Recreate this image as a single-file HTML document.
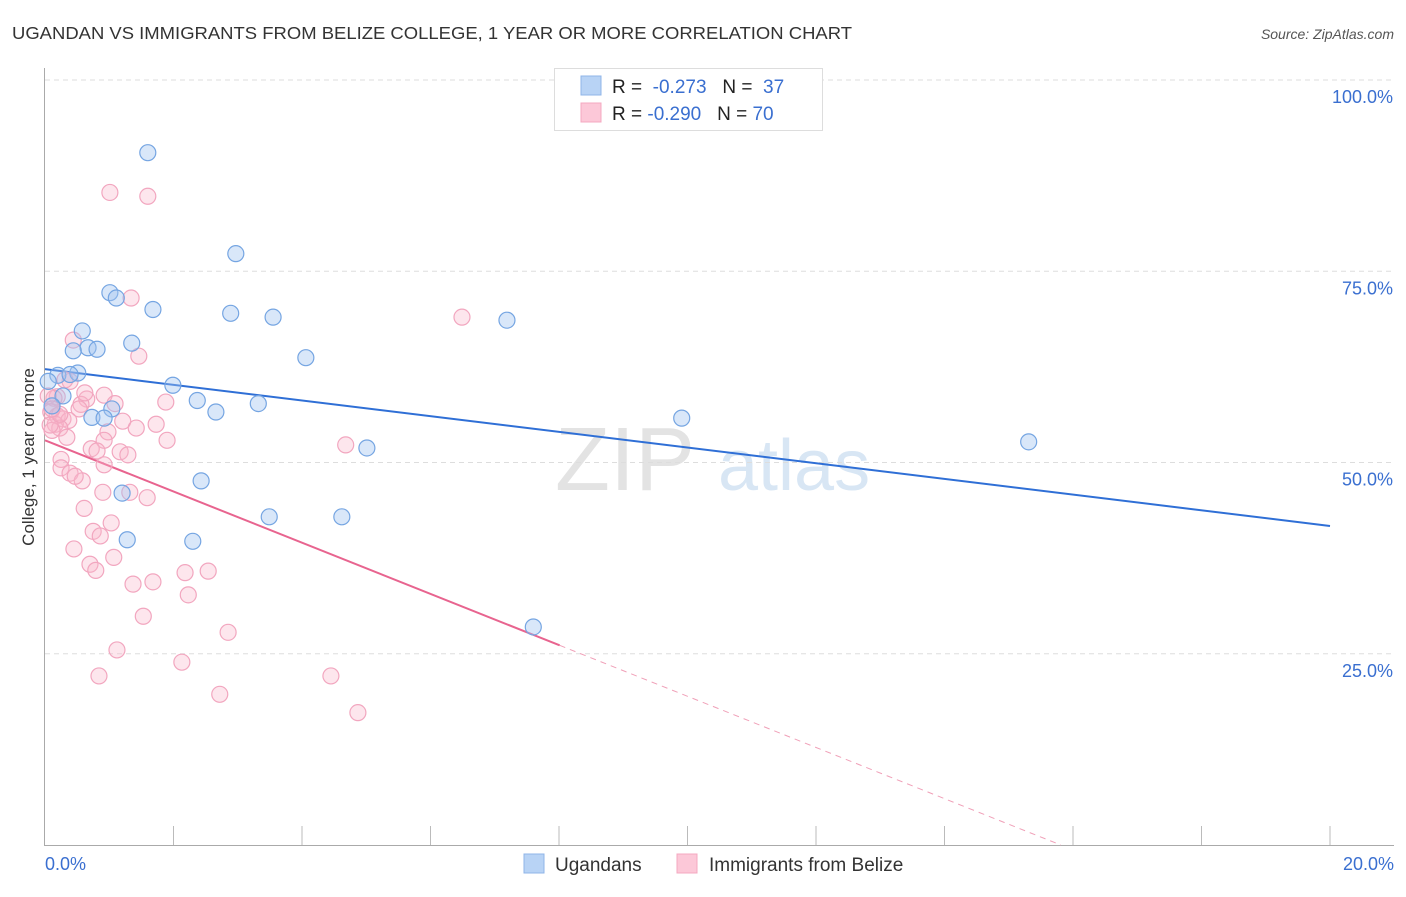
<!DOCTYPE html>
<html><head><meta charset="utf-8"><style>
body{margin:0;background:#fff;font-family:"Liberation Sans",sans-serif}
svg text{font-family:"Liberation Sans",sans-serif}
</style></head><body>
<svg id="c" width="1406" height="892" xmlns="http://www.w3.org/2000/svg">
<text x="12" y="39" font-size="17.5" fill="#333" textLength="840" lengthAdjust="spacingAndGlyphs">UGANDAN VS IMMIGRANTS FROM BELIZE COLLEGE, 1 YEAR OR MORE CORRELATION CHART</text>
<text x="1394" y="39" font-size="14" fill="#555" font-style="italic" text-anchor="end">Source: ZipAtlas.com</text>
<text x="34" y="457" font-size="17" fill="#333" text-anchor="middle" transform="rotate(-90 34 457)">College, 1 year or more</text>
<g><text x="555" y="490" font-size="90" fill="#ddd" font-family="Liberation Serif" opacity="0.8">ZIP</text><text x="718" y="490" font-size="72" fill="#c8dcf0" opacity="0.7">atlas</text></g>
<g id="grid"></g><g id="axes"></g><g id="lines"></g><g id="pts"></g>
<g>
<rect x="554.5" y="68.5" width="268" height="62" fill="#fff" stroke="#ddd"/>
<rect x="581" y="76" width="20" height="19" fill="#b8d3f5" stroke="#8fb5e8"/>
<rect x="581" y="103" width="20" height="19" fill="#fcc8d8" stroke="#f4a8c0"/>
<text x="612" y="93" font-size="19" fill="#222">R = <tspan fill="#3a6fd0">&#160;-0.273</tspan>&#160;&#160;&#160;N = <tspan fill="#3a6fd0">&#160;37</tspan></text>
<text x="612" y="120" font-size="19" fill="#222">R = <tspan fill="#3a6fd0">-0.290</tspan>&#160;&#160;&#160;N = <tspan fill="#3a6fd0">70</tspan></text>
</g>
<g>
<rect x="524" y="854" width="20" height="19" fill="#b8d3f5" stroke="#8fb5e8"/>
<text x="555" y="871" font-size="19" fill="#333">Ugandans</text>
<rect x="677" y="854" width="20" height="19" fill="#fcc8d8" stroke="#f4a8c0"/>
<text x="709" y="871" font-size="19" fill="#333">Immigrants from Belize</text>
</g>
</svg>
<script>
const yTicks=[25,50,75,100];
const yTickLabels=["25.0%","50.0%","75.0%","100.0%"];
const xTickLabels=["0.0%","20.0%"];
const blueX=[1.60,2.97,1.01,1.11,1.68,2.89,3.55,7.19,0.58,1.35,0.67,0.81,0.44,4.06,0.20,0.51,0.39,0.05,1.99,2.37,0.28,3.32,2.66,0.11,1.04,0.73,0.92,9.91,5.01,15.31,2.43,1.20,3.49,4.62,2.30,1.28,7.60];
const blueY=[90.5,77.3,72.2,71.5,70.0,69.5,69.0,68.6,67.2,65.6,65.0,64.8,64.6,63.7,61.4,61.7,61.5,60.6,60.1,58.1,58.7,57.7,56.6,57.4,57.0,55.9,55.8,55.8,51.9,52.7,47.6,46.0,42.9,42.9,39.7,39.9,28.5];
const pinkX=[1.01,1.60,1.34,6.49,0.44,1.46,0.39,0.31,0.19,0.14,0.65,0.56,0.92,1.09,1.88,0.53,0.09,0.19,0.28,0.37,1.21,1.73,0.16,0.23,0.11,1.42,0.98,0.34,0.92,1.90,0.72,0.81,1.17,1.29,4.68,0.25,0.92,0.25,0.39,0.58,0.90,1.32,1.59,0.61,1.03,0.75,0.86,0.45,1.07,0.70,0.79,2.54,2.18,1.68,1.37,2.23,1.53,2.85,1.12,2.13,0.84,4.45,2.72,4.87,0.05,0.08,0.47,0.23,0.62,0.11];
const pinkY=[85.3,84.8,71.5,69.0,66.0,63.9,60.6,60.8,58.6,58.4,58.3,57.6,58.8,57.7,57.9,57.0,56.6,56.1,55.7,55.5,55.4,55.0,55.0,54.5,54.2,54.5,54.0,53.3,52.9,52.9,51.8,51.5,51.4,51.0,52.3,50.4,49.7,49.3,48.6,47.6,46.1,46.1,45.4,44.0,42.1,41.0,40.4,38.7,37.6,36.7,35.9,35.8,35.6,34.4,34.1,32.7,29.9,27.8,25.5,23.9,22.1,22.1,19.7,17.3,58.7,54.9,48.2,56.3,59.1,57.0];
const blueTrend=[62.2,41.7]; // y at x=0, x=20
const pinkTrend=[52.9,26.1,8.01]; // y at x=0, y at solid end, solid end x
const NS="http://www.w3.org/2000/svg";
const X=v=>45+v/20*1285, Y=v=>845-v*7.65;
function mk(tag,attrs,parent){const e=document.createElementNS(NS,tag);for(const k in attrs)e.setAttribute(k,attrs[k]);document.getElementById(parent).appendChild(e);return e;}
yTicks.forEach((t,i)=>{
 const g=mk('line',{x1:45,x2:1394,y1:Y(t),y2:Y(t),stroke:'#ddd','stroke-dasharray':'5,4'},'grid');
 
 
 const tx=mk('text',{x:1393,y:Y(t)+23,'font-size':18,fill:'#3a6fd0','text-anchor':'end'},'grid');
 tx.textContent=yTickLabels[i];
 
 
});
const a1=mk('line',{x1:44.5,x2:44.5,y1:68,y2:845,stroke:'#aaa'},'axes');


const a2=mk('line',{x1:44,x2:1394,y1:845.5,y2:845.5,stroke:'#aaa'},'axes');


for(let i=1;i<=10;i++){const t=mk('line',{x1:X(i*2),x2:X(i*2),y1:826,y2:845,stroke:'#bbb'},'axes');
 
 }
[[0,45,'start'],[20,1394,'end']].forEach((d,i)=>{const t=mk('text',{x:d[1],y:870,'font-size':18,fill:'#3a6fd0','text-anchor':d[2]},'axes');t.textContent=xTickLabels[i];
 
 });
const bl=mk('line',{x1:X(0),y1:Y(blueTrend[0]),x2:X(20),y2:Y(blueTrend[1]),stroke:'#2f6fd6','stroke-width':2},'lines');


const slope=(pinkTrend[1]-pinkTrend[0])/pinkTrend[2], xz=-pinkTrend[0]/slope;
const pl=mk('line',{x1:X(0),y1:Y(pinkTrend[0]),x2:X(pinkTrend[2]),y2:Y(pinkTrend[1]),stroke:'#e8648f','stroke-width':2},'lines');


const pd=mk('line',{x1:X(pinkTrend[2]),y1:Y(pinkTrend[1]),x2:X(xz),y2:Y(0),stroke:'#f0a0b8','stroke-width':1,'stroke-dasharray':'6,5'},'lines');


pinkX.forEach((x,i)=>{const c=mk('circle',{cx:X(x),cy:Y(pinkY[i]),r:8,fill:'rgba(248,184,204,0.35)',stroke:'#f2a6bf','stroke-width':1.2},'pts');
 
 });
blueX.forEach((x,i)=>{const c=mk('circle',{cx:X(x),cy:Y(blueY[i]),r:8,fill:'rgba(160,196,240,0.4)',stroke:'#75a5e2','stroke-width':1.2},'pts');
 
 });
</script>
</body></html>
